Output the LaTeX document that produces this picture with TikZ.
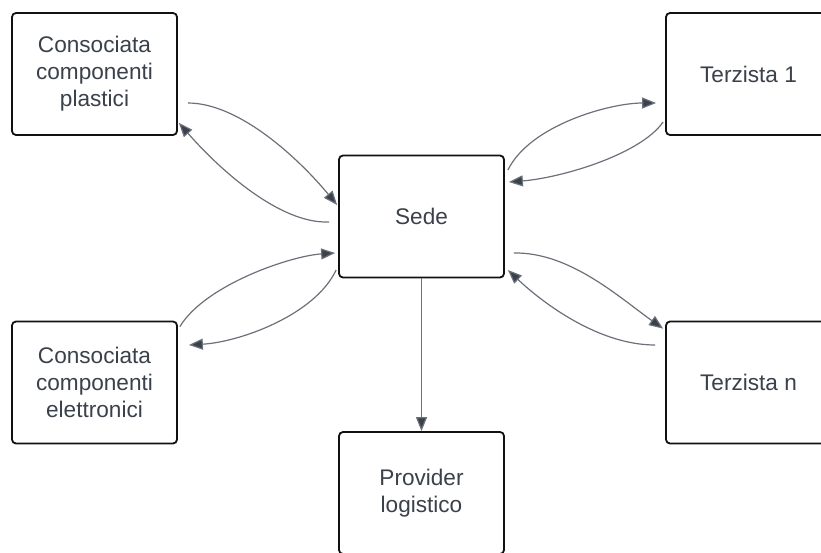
\documentclass[tikz,border=0pt]{standalone}
\usepackage{fontspec}
\setmainfont{Liberation Sans}
\usetikzlibrary{arrows.meta}
\definecolor{txt}{HTML}{3A414A}
\definecolor{lin}{HTML}{6B7079}
\definecolor{tip}{HTML}{3A414A}
\definecolor{bord}{HTML}{111111}
\tikzset{
  box/.style={draw=bord, line width=1.8pt, rounded corners=4pt, fill=white,
    minimum width=165pt, minimum height=122pt, align=center, text=txt,
    font=\fontsize{22.6}{27}\selectfont, inner sep=0pt},
  conn/.style={draw=lin, line width=1.2pt, -{Triangle[length=14pt,width=11pt,fill=tip]}}
}
\begin{document}
\begin{tikzpicture}[x=1pt,y=-1pt]
\useasboundingbox (0,0) rectangle (821,552);
\node[box] (plast) at (94.5,74) {Consociata\\componenti\\plastici};
\node[box] (sede) at (421.5,216.5) {Sede};
\node[box] (elet) at (94.5,382.5) {Consociata\\componenti\\elettronici};
\node[box] (t1) at (748.5,74) {Terzista 1};
\node[box] (tn) at (748.5,382.5) {Terzista n};
\node[box] (prov) at (421.5,493) {Provider\\logistico};

\draw[conn] ([shift={(10,29)}]plast.east) .. controls (240,103) and (300,160) .. ([shift={(-1,-11.5)}]sede.west);
\draw[conn] ([shift={(-9,5.5)}]sede.west) .. controls (280,224) and (220,170) .. ([shift={(1,-13)}]plast.south east);
\draw[conn] ([shift={(3,-46.5)}]sede.east) .. controls (530,125) and (610,103) .. ([shift={(-9,29)}]t1.west);
\draw[conn] ([shift={(-2,48)}]t1.west) .. controls (640,155) and (560,178) .. ([shift={(4,-34.5)}]sede.east);
\draw[conn] ([shift={(2,6)}]elet.north east) .. controls (205,285) and (290,256) .. ([shift={(-3,36.5)}]sede.west);
\draw[conn] ([shift={(-2,53.5)}]sede.west) .. controls (315,315) and (240,342) .. ([shift={(11,-37.5)}]elet.east);
\draw[conn] ([shift={(9,36.5)}]sede.east) .. controls (570,252) and (620,298) .. ([shift={(-2,8)}]tn.north west);
\draw[conn] ([shift={(-10,-37.5)}]tn.west) .. controls (600,345) and (545,305) .. ([shift={(3,53.5)}]sede.east);
\draw[conn] (sede.south) -- (prov.north);
\end{tikzpicture}
\end{document}
